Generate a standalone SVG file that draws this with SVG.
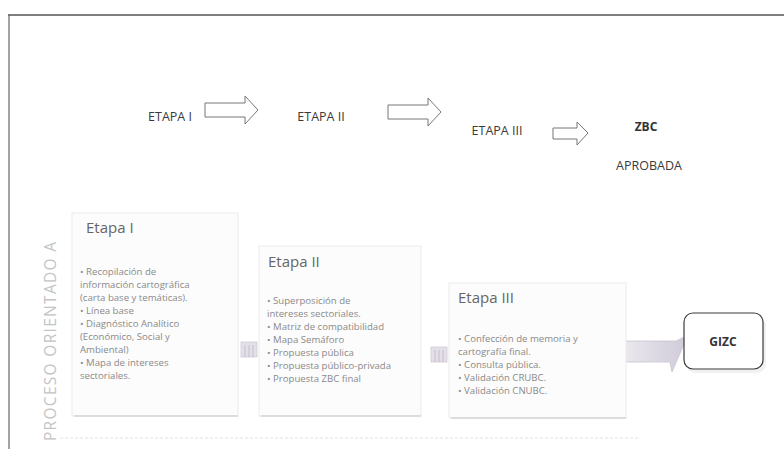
<svg xmlns="http://www.w3.org/2000/svg" width="784" height="449" viewBox="0 0 784 449">
<style>
.top{font-family:"Open Sans","Liberation Sans",sans-serif;font-size:12.5px;fill:#3a3a3a;text-anchor:middle}
.topb{font-family:"Open Sans","Liberation Sans",sans-serif;font-size:12px;font-weight:bold;fill:#333;text-anchor:middle}
.head{font-family:"Open Sans","Liberation Sans",sans-serif;font-size:15px;fill:#666}
.item{font-family:"Open Sans","Liberation Sans",sans-serif;font-size:9.6px;fill:#8a8a8a}
.panel{fill:#fcfcfc;stroke:#ebebeb;stroke-width:1}
.shadow{stroke:#d4d4d4;stroke-width:1.5}
.barr{fill:#fff;stroke:#777;stroke-width:1}
.stub{fill:#e4e0e8;stroke:#cfcad6;stroke-width:0.8}
.side{font-family:"Open Sans","Liberation Sans",sans-serif;font-size:15.5px;fill:#c4c4c4;letter-spacing:1.3px}
</style>
<defs>
<linearGradient id="g1" x1="0" y1="0" x2="1" y2="0">
<stop offset="0" stop-color="#ebe8ee"/><stop offset="1" stop-color="#cfcad8"/>
</linearGradient>
</defs>
<rect width="784" height="449" fill="#fff"/>
<g id="frame">
<line x1="8" y1="15" x2="784" y2="15" stroke="#555" stroke-width="1.5"/>
<line x1="9" y1="15" x2="9" y2="449" stroke="#666" stroke-width="1.2"/>
<line x1="60" y1="438" x2="640" y2="438" stroke="#e2e2e2" stroke-width="1" stroke-dasharray="3 2"/>
</g>
<g id="top-row">
<g id="t-etapa1"><text class="top" x="170" y="121">ETAPA I</text></g>
<g id="t-etapa2"><text class="top" x="321" y="121">ETAPA II</text></g>
<g id="t-etapa3"><text class="top" x="497" y="135">ETAPA III</text></g>
<g id="t-zbc"><text class="topb" x="646" y="131">ZBC</text><text class="top" x="649" y="170">APROBADA</text></g>
</g>
<g id="connectors">
<path class="barr" d="M205,103 H245 V96 L258,110 L245,124 V117 H205 Z"/>
<path class="barr" d="M388,105 H428 V98 L441,112 L428,126 V119 H388 Z"/>
<path class="barr" d="M553,128 H577 V122 L588,133 L577,145 V139 H553 Z"/>
<g class="stub"><rect x="241" y="342" width="16" height="15"/><path d="M245,345 V357 M249,345 V357 M253,345 V357" stroke="#bdb6c6"/></g>
<g class="stub"><rect x="431" y="347" width="16" height="15"/><path d="M435,350 V362 M439,350 V362 M443,350 V362" stroke="#bdb6c6"/></g>
<path d="M624,341 H676 L688,335 L672,372 L670,362 H624 Z" fill="url(#g1)" stroke="#c9c4d2" stroke-width="0.8"/>
</g>
<g id="side-label"><text class="side" transform="translate(56,441) rotate(-90)">PROCESO ORIENTADO A</text></g>
<g id="etapa1">
<rect class="panel" x="72" y="213" width="166" height="203"/>
<line class="shadow" x1="74" y1="416" x2="238" y2="416"/>
<text class="head" x="86" y="233">Etapa I</text>
<text class="item" x="80" y="275">• Recopilación de</text>
<text class="item" x="80" y="288">información cartográfica</text>
<text class="item" x="80" y="301">(carta base y temáticas).</text>
<text class="item" x="80" y="314">• Línea base</text>
<text class="item" x="80" y="327">• Diagnóstico Analítico</text>
<text class="item" x="80" y="340">(Económico, Social y</text>
<text class="item" x="80" y="353">Ambiental)</text>
<text class="item" x="80" y="366">• Mapa de intereses</text>
<text class="item" x="80" y="379">sectoriales.</text>
</g>
<g id="etapa2">
<rect class="panel" x="259" y="246" width="162" height="170"/>
<line class="shadow" x1="261" y1="416" x2="421" y2="416"/>
<text class="head" x="268" y="267">Etapa II</text>
<text class="item" x="267" y="304">• Superposición de</text>
<text class="item" x="267" y="317">intereses sectoriales.</text>
<text class="item" x="267" y="330">• Matriz de compatibilidad</text>
<text class="item" x="267" y="343">• Mapa Semáforo</text>
<text class="item" x="267" y="356">• Propuesta pública</text>
<text class="item" x="267" y="369">• Propuesta público-privada</text>
<text class="item" x="267" y="382">• Propuesta ZBC final</text>
</g>
<g id="etapa3">
<rect class="panel" x="449" y="283" width="177" height="135"/>
<line class="shadow" x1="451" y1="418" x2="626" y2="418"/>
<text class="head" x="458" y="303">Etapa III</text>
<text class="item" x="458" y="342">• Confección de memoria y</text>
<text class="item" x="458" y="355">cartografía final.</text>
<text class="item" x="458" y="368">• Consulta pública.</text>
<text class="item" x="458" y="381">• Validación CRUBC.</text>
<text class="item" x="458" y="394">• Validación CNUBC.</text>
</g>
<g id="gizc">
<rect x="685" y="315" width="80" height="56" rx="9" fill="#e8e8e8" opacity="0.6" transform="translate(1,2)"/>
<rect x="684" y="313" width="79" height="56" rx="9" fill="#fff" stroke="#3a3a3a" stroke-width="1.2"/>
<text class="topb" x="723" y="346" font-size="13">GIZC</text>
</g>
</svg>
